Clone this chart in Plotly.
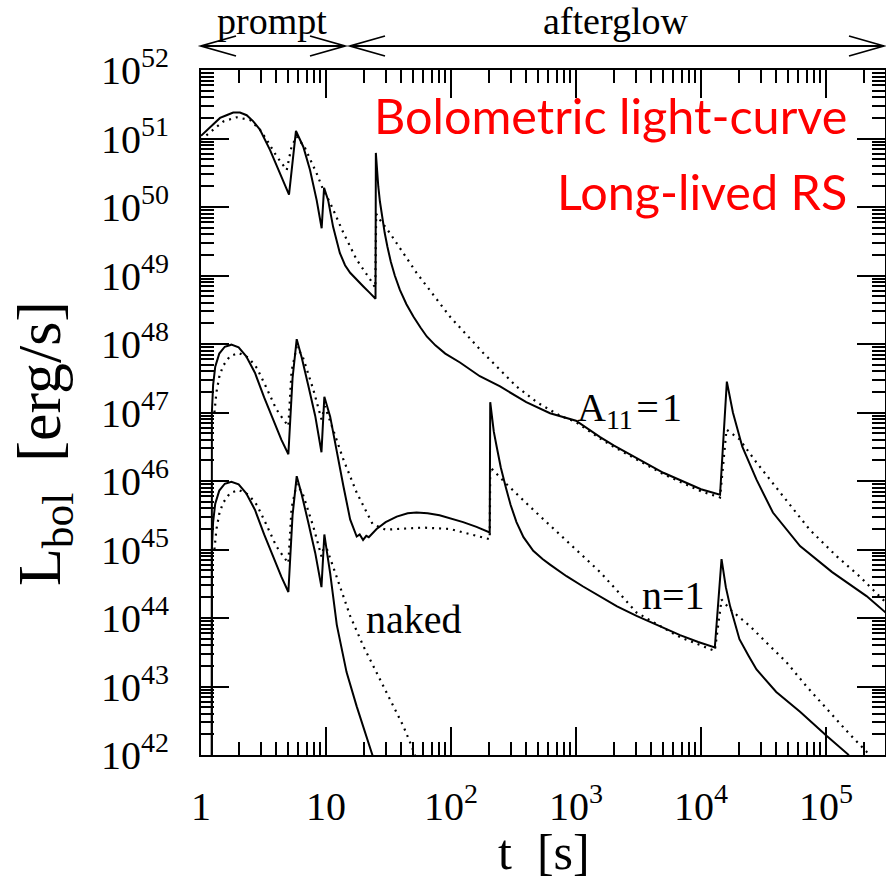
import plotly.graph_objects as go

# ---- light-curve data: time [s] and log10 of L_bol [erg/s] ----
# long-lived reverse shock, A11 = 1
a11_solid_t = [1.0, 1.18, 1.42, 1.6, 1.81, 2.05, 2.32, 2.62, 2.96, 3.57, 4.29, 5.06,
               5.75, 6.58, 7.45, 8.42, 9.23, 9.65, 10.4, 11.4, 12.9, 14.2, 15.6, 17.5,
               19.9, 22.3, 24.9, 25.05, 25.5, 26.2, 27.0, 28.0, 29.5, 31.0, 33.0, 35.5,
               39.0, 44.0, 50.0, 57.0, 64.0, 75.0, 90.0, 118, 170, 247, 400, 620, 790,
               1000, 1560, 2000, 5000, 10000, 14200, 16100, 18000, 21400, 27800, 37600,
               62000, 112000, 211000, 300000]
a11_solid_logL = [51.04, 51.17, 51.30, 51.34, 51.38, 51.38, 51.34, 51.25, 51.13, 50.83,
                  50.50, 50.18, 51.11, 50.88, 50.54, 50.10, 49.69, 50.28, 50.10, 49.71,
                  49.33, 49.15, 49.04, 48.94, 48.84, 48.75, 48.66, 50.79, 50.55, 50.30,
                  50.08, 49.88, 49.62, 49.42, 49.20, 49.00, 48.79, 48.58, 48.40, 48.24,
                  48.11, 47.98, 47.86, 47.73, 47.53, 47.38, 47.15, 46.99, 46.93, 46.88,
                  46.64, 46.52, 46.12, 45.88, 45.80, 47.45, 47.00, 46.50, 46.02, 45.54,
                  45.05, 44.67, 44.32, 44.08]
a11_dot_t = [1.0, 1.25, 1.51, 1.93, 2.47, 2.96, 3.36, 4.03, 4.85, 5.3, 5.83, 6.8, 8.42,
             9.5, 10.8, 13.8, 17.6, 22.6, 24.8, 25.2, 27.1, 32.4, 53, 98, 181, 334, 486,
             750, 1000, 1560, 2000, 5000, 10000, 14200, 16000, 20300, 27800, 45300,
             74000, 122000, 185000, 300000]
a11_dot_logL = [50.98, 51.13, 51.25, 51.31, 51.27, 51.13, 50.98, 50.74, 50.54, 50.88,
                51.03, 50.86, 50.49, 50.25, 50.06, 49.62, 49.23, 48.94, 48.82, 49.90,
                49.81, 49.62, 49.04, 48.40, 47.87, 47.38, 47.15, 46.95, 46.86, 46.62,
                46.50, 46.10, 45.85, 45.76, 46.75, 46.61, 46.27, 45.78, 45.29, 44.90,
                44.61, 44.23]

# uniform medium, n = 1
n1_solid_t = [1.22, 1.222, 1.25, 1.3, 1.4, 1.55, 1.75, 2.0, 2.3, 2.7, 3.2, 3.8, 4.4, 5.0,
              5.4, 5.83, 6.4, 7.2, 8.2, 9.2, 9.7, 10.8, 12.2, 13.8, 15.6, 17.6, 18.6,
              19.8, 21.0, 22.0, 25.4, 30.0, 36.8, 45.0, 53, 65, 81, 98, 125, 160, 204,
              206, 212, 220, 232, 250, 275, 300, 334, 380, 455, 540, 620, 840, 1140,
              1560, 2130, 3050, 5300, 6800, 9500, 12900, 14600, 15800, 17100, 20300,
              24000, 27800, 40000, 62000, 101000, 150000, 165000]
n1_solid_logL = [39.5, 47.0, 47.4, 47.67, 47.86, 47.96, 47.99, 47.95, 47.82, 47.58, 47.22,
                 46.88, 46.60, 46.39, 47.50, 48.07, 47.80, 47.40, 46.95, 46.42, 47.23,
                 46.94, 46.42, 45.92, 45.44, 45.19, 45.22, 45.14, 45.20, 45.18, 45.30,
                 45.40, 45.48, 45.53, 45.54, 45.53, 45.50, 45.46, 45.40, 45.33, 45.25,
                 47.15, 46.95, 46.72, 46.50, 46.20, 45.90, 45.65, 45.40, 45.18, 44.98,
                 44.86, 44.78, 44.61, 44.46, 44.32, 44.17, 44.03, 43.84, 43.75, 43.65,
                 43.57, 44.86, 44.45, 44.17, 43.69, 43.45, 43.25, 42.92, 42.63, 42.28,
                 42.01, 41.90]
n1_dot_t = [1.28, 1.33, 1.4, 1.5, 1.7, 2.0, 2.4, 2.8, 3.3, 4.0, 4.55, 5.0, 5.3, 5.83, 6.5,
            7.9, 9.2, 9.8, 11.4, 13.8, 17.6, 21.0, 23.6, 30, 60, 98, 204, 206, 280, 455,
            845, 1560, 2130, 3050, 5300, 6800, 12900, 14600, 17000, 24700, 33000, 48000,
            70000, 101000, 150000, 213000, 240000]
n1_dot_logL = [47.00, 47.30, 47.52, 47.68, 47.82, 47.87, 47.80, 47.65, 47.38, 47.05,
               46.90, 46.80, 47.60, 47.96, 47.82, 47.34, 46.90, 47.09, 46.75, 46.31,
               45.83, 45.54, 45.37, 45.29, 45.32, 45.30, 45.15, 46.20, 45.95, 45.58,
               45.12, 44.67, 44.40, 44.08, 43.83, 43.72, 43.52, 44.27, 44.13, 43.88,
               43.65, 43.36, 43.00, 42.67, 42.33, 42.04, 41.95]

# naked burst (no external medium)
naked_solid_t = [1.22, 1.222, 1.25, 1.3, 1.4, 1.55, 1.75, 2.0, 2.3, 2.7, 3.2, 3.8, 4.4,
                 5.0, 5.4, 5.83, 6.4, 7.2, 8.2, 9.2, 9.7, 10.2, 10.8, 12.2, 14.6, 17.6,
                 21.1, 23.7, 25.5]
naked_solid_logL = [39.5, 45.0, 45.4, 45.67, 45.86, 45.96, 45.99, 45.95, 45.82, 45.58,
                    45.22, 44.88, 44.60, 44.38, 45.50, 46.07, 45.80, 45.40, 44.95, 44.45,
                    45.22, 44.95, 44.65, 43.90, 43.21, 42.71, 42.28, 42.01, 41.80]
naked_dot_t = [1.28, 1.33, 1.4, 1.5, 1.7, 2.0, 2.4, 2.8, 3.3, 4.0, 4.55, 5.0, 5.3, 5.83,
               6.5, 7.9, 9.2, 9.8, 11.4, 13.8, 15.6, 19.9, 25.4, 32.6, 41.6, 48.4, 55]
naked_dot_logL = [45.00, 45.30, 45.52, 45.68, 45.82, 45.87, 45.80, 45.65, 45.38, 45.05,
                  44.90, 44.80, 45.60, 45.96, 45.82, 45.34, 44.90, 45.09, 44.75, 44.31,
                  44.03, 43.59, 43.21, 42.82, 42.42, 42.13, 41.85]

# ---- axis ticks ----
x_tick_vals = [1, 10, 100, 1e3, 1e4, 1e5]
x_tick_text = ["1", "10", "10<sup>2</sup>", "10<sup>3</sup>", "10<sup>4</sup>", "10<sup>5</sup>"]
y_exponents = list(range(42, 53))
y_tick_vals = [10.0 ** e for e in y_exponents]
y_tick_text = ["10<sup>%d</sup>" % e for e in y_exponents]
x_minor = [m * 10.0 ** k for k in range(0, 6) for m in range(2, 10)]
y_minor = [m * 10.0 ** k for k in range(42, 52) for m in range(2, 10)]

SERIF = "Liberation Serif"
W, H = 886, 880
L_M, R_M, T_M, B_M = 201, 1, 70, 125
PW, PH = W - L_M - R_M, H - T_M - B_M


def px(xp):
    return (xp - L_M) / PW


def py(yp):
    return (H - B_M - yp) / PH


fig = go.Figure()

curves = [
    (a11_solid_t, a11_solid_logL, False),
    (a11_dot_t, a11_dot_logL, True),
    (n1_solid_t, n1_solid_logL, False),
    (n1_dot_t, n1_dot_logL, True),
    (naked_solid_t, naked_solid_logL, False),
    (naked_dot_t, naked_dot_logL, True),
]
for t, logL, dotted in curves:
    fig.add_trace(go.Scatter(
        x=t, y=[10.0 ** v for v in logL], mode="lines",
        line=dict(color="black", width=2.2 if dotted else 2,
                  dash="2px,5px" if dotted else "solid"),
        showlegend=False, hoverinfo="skip"))

axis_common = dict(
    type="log", showline=True, linewidth=2, linecolor="black", mirror="allticks",
    ticks="inside", ticklen=28, tickwidth=1.5, tickcolor="black",
    tickmode="array", showgrid=False, zeroline=False,
    tickfont=dict(family=SERIF, size=40, color="black"),
)
fig.update_xaxes(range=[0, PW / 125.0], tickvals=x_tick_vals, ticktext=x_tick_text,
                 ticklabelstandoff=15,
                 minor=dict(ticks="inside", ticklen=13, tickwidth=1.5, tickcolor="black",
                            tickmode="array", tickvals=x_minor, showgrid=False),
                 **axis_common)
fig.update_yaxes(range=[42, 52], tickvals=y_tick_vals, ticktext=y_tick_text,
                 ticklabelstandoff=22,
                 minor=dict(ticks="inside", ticklen=13, tickwidth=1.5, tickcolor="black",
                            tickmode="array", tickvals=y_minor, showgrid=False),
                 **axis_common)

NB = "\u00a0"
annotations = [
    dict(text="t" + NB + NB + "[s]", x=px(544), y=py(852), size=50, xanchor="center", angle=0),
    dict(text="L<sub>bol</sub>" + NB + NB + "[erg/s]", x=px(44), y=py(444), size=62,
         xanchor="center", angle=-90),
    dict(text="prompt", x=px(272), y=py(21), size=38, xanchor="center", angle=0),
    dict(text="afterglow", x=px(615), y=py(21), size=38, xanchor="center", angle=0),
    dict(text="A<sub>11</sub>\u200a=\u200a1", x=px(575), y=py(410), size=40, xanchor="left", angle=0),
    dict(text="n=1", x=px(640), y=py(595), size=40, xanchor="left", angle=0),
    dict(text="naked", x=px(364), y=py(619), size=40, xanchor="left", angle=0),
]
for a in annotations:
    fig.add_annotation(text=a["text"], x=a["x"], y=a["y"], xref="paper", yref="paper",
                       xanchor=a["xanchor"], yanchor="middle", showarrow=False,
                       textangle=a["angle"],
                       font=dict(family=SERIF, size=a["size"], color="black"))

for text, yc in [("Bolometric light-curve", 115), ("Long-lived RS", 191)]:
    fig.add_annotation(text=text, x=px(849), y=py(yc), xref="paper", yref="paper",
                       xanchor="right", yanchor="middle", showarrow=False,
                       font=dict(family="Lato", size=48.5, color="#ff0000"))

# double-headed arrows marking the prompt and afterglow phases
ay = py(46)
hx, hy = 35 / PW, 10 / PH
for x0p, x1p in [(201, 345), (350, 884)]:
    x0, x1 = px(x0p), px(x1p)
    path = (f"M {x0},{ay} L {x1},{ay} "
            f"M {x0 + hx},{ay + hy} L {x0},{ay} L {x0 + hx},{ay - hy} "
            f"M {x1 - hx},{ay + hy} L {x1},{ay} L {x1 - hx},{ay - hy}")
    fig.add_shape(type="path", path=path, xref="paper", yref="paper",
                  line=dict(color="black", width=1.8))

fig.update_layout(width=W, height=H, margin=dict(l=L_M, r=R_M, t=T_M, b=B_M, autoexpand=False),
                  paper_bgcolor="white", plot_bgcolor="white", showlegend=False,
                  font=dict(family=SERIF, color="black"))

fig.write_html("out.html")
